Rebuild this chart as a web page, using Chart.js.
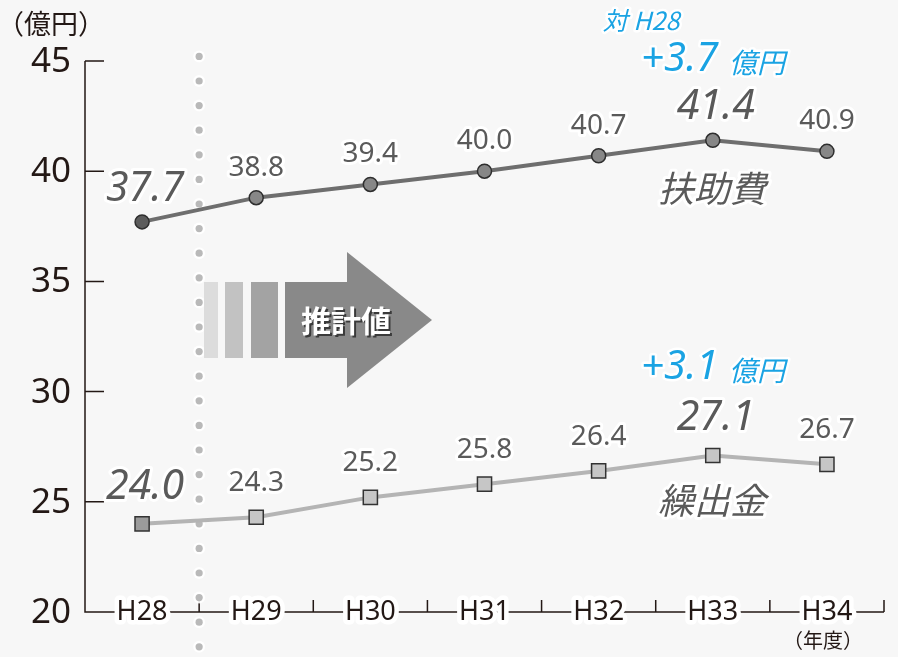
<!DOCTYPE html>
<html lang="ja">
<head>
<meta charset="utf-8">
<script src="https://cdn.jsdelivr.net/npm/chart.js@4"></script>
<style>
    html, body { margin: 0; padding: 0; background: #f7f7f7; }
    #wrap { width: 898px; height: 657px; }
</style>
</head>
<body>
<div id="wrap"><canvas id="chart" width="898" height="657"></canvas></div>
<script>
const years = ['H28', 'H29', 'H30', 'H31', 'H32', 'H33', 'H34'];
const fujohi = [37.7, 38.8, 39.4, 40.0, 40.7, 41.4, 40.9];
const kuridashi = [24.0, 24.3, 25.2, 25.8, 26.4, 27.1, 26.7];
const yTicks = [20, 25, 30, 35, 40, 45];
const emphasis = [0, 5];

const SANS = '"Noto Sans", "Noto Sans CJK JP", sans-serif';
const JP = '"Noto Sans CJK JP", "Noto Sans", sans-serif';

function haloText(ctx, text, x, y, font, color, align = 'center', halo = 6) {
    ctx.save();
    ctx.font = font;
    ctx.textAlign = align;
    ctx.textBaseline = 'middle';
    ctx.lineJoin = 'round';
    if (halo > 0) {
        ctx.strokeStyle = '#ffffff';
        ctx.lineWidth = halo;
        ctx.strokeText(text, x, y);
    }
    ctx.fillStyle = color;
    ctx.fillText(text, x, y);
    ctx.restore();
}

const decor = {
    id: 'decor',
    beforeDraw(chart) {
        const { ctx } = chart;
        ctx.save();
        ctx.fillStyle = '#f7f7f7';
        ctx.fillRect(0, 0, chart.width, chart.height);
        ctx.restore();
    },
    beforeDatasetsDraw(chart) {
        const { ctx, chartArea, scales: { x, y } } = chart;
        const axisColor = '#231815';
        const y0 = y.getPixelForValue(20);
        ctx.save();
        ctx.strokeStyle = axisColor;
        ctx.lineWidth = 1.5;
        // y axis
        ctx.beginPath();
        ctx.moveTo(chartArea.left, y.getPixelForValue(45));
        ctx.lineTo(chartArea.left, y0);
        ctx.lineTo(chartArea.right, y0);
        yTicks.forEach(v => {
            const py = y.getPixelForValue(v);
            if (v > 20) {
                ctx.moveTo(chartArea.left, py);
                ctx.lineTo(chartArea.left + 19, py);
            }
        });
        // x ticks at category boundaries
        const cw = (chartArea.right - chartArea.left) / years.length;
        for (let i = 1; i <= years.length; i++) {
            const px = chartArea.left + i * cw;
            ctx.moveTo(px, y0);
            ctx.lineTo(px, y0 - 12);
        }
        ctx.stroke();
        ctx.restore();

        yTicks.forEach(v => {
            haloText(ctx, String(v), 71, y.getPixelForValue(v) + 1, '35px ' + SANS, axisColor, 'right', 0);
        });

        // dotted divider between actual and estimate
        const dx = (x.getPixelForValue(0) + x.getPixelForValue(1)) / 2;
        ctx.save();
        for (let py = 573; py > 50; py -= 24.6) drawDot(ctx, dx, py);
        for (let py = 597.6; py < 660; py += 24.6) drawDot(ctx, dx, py);
        ctx.restore();

        years.forEach((label, i) => {
            haloText(ctx, label, x.getPixelForValue(i), y0, '27px ' + SANS, axisColor, 'center', 9);
        });
        haloText(ctx, '（年度）', x.getPixelForValue(6) - 4, 640, '20px ' + JP, axisColor, 'center', 0);
        haloText(ctx, '（億円）', 51, 24, '27px ' + JP, axisColor, 'center', 0);

        // estimate arrow
        ctx.save();
        ctx.fillStyle = '#dcdcdc';
        ctx.fillRect(204, 282, 14, 76);
        ctx.fillStyle = '#c2c2c2';
        ctx.fillRect(225, 282, 18, 76);
        ctx.fillStyle = '#a3a3a3';
        ctx.fillRect(251, 282, 27, 76);
        ctx.fillStyle = '#898989';
        ctx.beginPath();
        ctx.moveTo(285, 282);
        ctx.lineTo(347, 282);
        ctx.lineTo(347, 252);
        ctx.lineTo(432, 320);
        ctx.lineTo(347, 388);
        ctx.lineTo(347, 358);
        ctx.lineTo(285, 358);
        ctx.closePath();
        ctx.fill();
        ctx.font = 'bold 30px ' + JP;
        ctx.textAlign = 'center';
        ctx.textBaseline = 'middle';
        ctx.fillStyle = '#3a3a3a';
        ctx.fillText('推計値', 348, 323);
        ctx.fillStyle = '#ffffff';
        ctx.fillText('推計値', 346, 321);
        ctx.restore();
    },
    afterDatasetsDraw(chart) {
        const { ctx, scales: { x, y } } = chart;
        const labelColor = '#5a5a5a';
        const drawLabels = (values, gap, bigGap) => {
            values.forEach((v, i) => {
                const big = emphasis.includes(i);
                const font = big ? 'italic 41px ' + SANS : '28px ' + SANS;
                const px = x.getPixelForValue(i) + (big ? 3 : 0);
                const py = y.getPixelForValue(v) - (big ? bigGap : gap);
                haloText(ctx, v.toFixed(1), px, py, font, labelColor, 'center', 6);
            });
        };
        drawLabels(fujohi, 30, 33);
        drawLabels(kuridashi, 34, 37);

        haloText(ctx, '扶助費', 712, 188, 'italic 36px ' + JP, labelColor, 'center', 6);
        haloText(ctx, '繰出金', 712, 500, 'italic 36px ' + JP, labelColor, 'center', 6);

        const blue = '#1aa3e3';
        haloText(ctx, '対 H28', 641, 20, 'italic 25px ' + JP, blue, 'center', 5);
        const diff = (arr) => '+' + (arr[arr.length - 2] - arr[0]).toFixed(1);
        [[fujohi, 60], [kuridashi, 368]].forEach(([arr, py]) => {
            haloText(ctx, diff(arr), 641, py, 'italic 40px ' + SANS, blue, 'left', 5);
            haloText(ctx, '億円', 729, py + 2, 'italic 28px ' + JP, blue, 'left', 5);
        });
    }
};

function drawDot(ctx, x, y) {
    ctx.beginPath();
    ctx.arc(x, y, 6, 0, Math.PI * 2);
    ctx.fillStyle = 'rgba(255,255,255,0.9)';
    ctx.fill();
    ctx.beginPath();
    ctx.arc(x, y, 3.6, 0, Math.PI * 2);
    ctx.fillStyle = '#b9b9b9';
    ctx.fill();
}

new Chart(document.getElementById('chart').getContext('2d'), {
    type: 'line',
    data: {
        labels: years,
        datasets: [
            {
                label: '扶助費',
                data: fujohi,
                borderColor: '#6e6e6e',
                borderWidth: 4,
                pointStyle: 'circle',
                pointRadius: 7,
                pointBorderWidth: 1.5,
                pointBorderColor: '#2e2e2e',
                pointBackgroundColor: fujohi.map((v, i) => i === 0 ? '#5c5c5c' : '#878787'),
                tension: 0
            },
            {
                label: '繰出金',
                data: kuridashi,
                borderColor: '#b4b4b4',
                borderWidth: 4,
                pointStyle: 'rect',
                pointRadius: 10,
                pointBorderWidth: 1.5,
                pointBorderColor: '#333333',
                pointBackgroundColor: kuridashi.map((v, i) => i === 0 ? '#9b9b9b' : '#c6c6c6'),
                tension: 0
            }
        ]
    },
    options: {
        responsive: false,
        animation: false,
        devicePixelRatio: 1,
        layout: { padding: { left: 85, right: 14, top: 61, bottom: 45 } },
        plugins: {
            legend: { display: false },
            tooltip: { enabled: false }
        },
        scales: {
            x: { type: 'category', offset: true, display: false },
            y: { min: 20, max: 45, display: false }
        }
    },
    plugins: [decor]
});
</script>
</body>
</html>
